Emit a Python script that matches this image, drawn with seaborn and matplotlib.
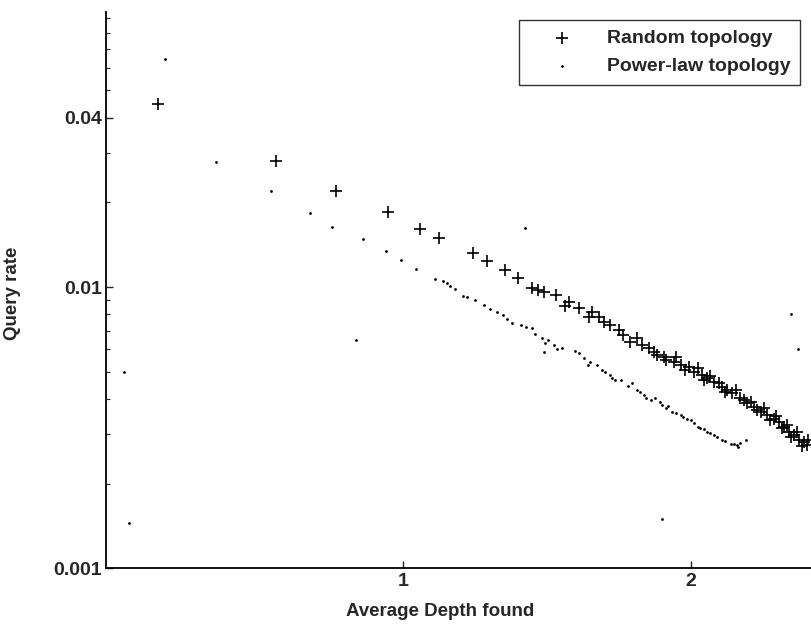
import numpy as np
import seaborn as sns
import matplotlib.pyplot as plt
from matplotlib.ticker import LogLocator, NullFormatter

# === DATI ===
random_x = [0.151, 0.561, 0.768, 0.950, 1.060, 1.124, 1.243, 1.292, 1.353, 1.398,
            1.448, 1.470, 1.488, 1.575, 1.610, 1.644, 1.681, 1.720, 1.749, 1.789,
            1.813, 1.853, 1.870, 1.905, 1.940, 1.963, 1.992, 2.009, 2.038, 2.056,
            2.078, 2.108, 2.125, 2.142, 2.171, 2.194, 2.217, 2.241, 2.264, 2.287,
            2.304, 2.322, 2.339, 2.356, 2.374, 2.391, 2.403,
            1.914, 1.949, 1.977, 2.022, 2.046, 2.067, 2.095, 2.116, 2.154, 2.183,
            2.206, 2.230, 2.251, 2.275, 2.296, 2.314, 2.331, 2.348, 2.366, 2.383,
            2.407, 1.532, 1.564, 1.657, 1.699, 1.765, 1.831, 1.883]
random_y = [0.0446, 0.0281, 0.0220, 0.0184, 0.0161, 0.0149, 0.0132, 0.0124, 0.0115, 0.0108,
            0.00992, 0.00976, 0.00962, 0.00887, 0.00840, 0.00784, 0.00784, 0.00733, 0.00703, 0.00639,
            0.00657, 0.00605, 0.00589, 0.00565, 0.00543, 0.00528, 0.00521, 0.00500, 0.00487, 0.00474,
            0.00461, 0.00442, 0.00430, 0.00419, 0.00402, 0.00386, 0.00375, 0.00360, 0.00351, 0.00341,
            0.00332, 0.00319, 0.00306, 0.00298, 0.00286, 0.00282, 0.00274,
            0.00550, 0.00564, 0.00507, 0.00515, 0.00467, 0.00483, 0.00456, 0.00423, 0.00430, 0.00397,
            0.00390, 0.00365, 0.00371, 0.00337, 0.00348, 0.00315, 0.00323, 0.00293, 0.00305, 0.00272,
            0.00286, 0.00937, 0.00856, 0.00815, 0.00751, 0.00675, 0.00622, 0.00573]

powerlaw_x = [0.175, 0.353, 0.542, 0.677, 0.755, 0.862, 0.940, 0.995, 1.046, 1.112,
              1.153, 1.182, 1.208, 1.280, 1.346, 1.378, 1.411, 1.448, 1.483, 1.494,
              1.488, 1.523, 1.552, 1.610, 1.627, 1.650, 1.674, 1.691, 1.720, 1.737,
              1.795, 1.813, 1.835, 1.859, 1.893, 1.911, 1.934, 1.963, 1.986, 2.009,
              2.032, 2.056, 2.078, 2.108, 2.137, 2.160, 2.170,
              1.505, 1.536, 1.598, 1.643, 1.702, 1.727, 1.755, 1.782, 1.824, 1.845,
              1.876, 1.900, 1.921, 1.949, 1.973, 1.998, 2.022, 2.044, 2.067, 2.091,
              2.119, 2.147, 2.164, 2.189, 1.140, 1.164, 1.223, 1.251, 1.303, 1.327,
              1.362, 1.428, 1.459,
              1.425, 0.837, 0.031, 0.050, 1.899, 2.345, 2.371]
powerlaw_y = [0.0648, 0.0278, 0.0220, 0.0183, 0.0164, 0.0148, 0.0134, 0.0125, 0.0116, 0.0107,
              0.0103, 0.00981, 0.00931, 0.00863, 0.00795, 0.00743, 0.00733, 0.00713, 0.00657, 0.00631,
              0.00589, 0.00622, 0.00605, 0.00581, 0.00558, 0.00543, 0.00528, 0.00507, 0.00487, 0.00467,
              0.00455, 0.00430, 0.00413, 0.00397, 0.00391, 0.00371, 0.00360, 0.00351, 0.00341, 0.00328,
              0.00315, 0.00306, 0.00298, 0.00286, 0.00278, 0.00274, 0.00280,
              0.00648, 0.00602, 0.00592, 0.00528, 0.00499, 0.00475, 0.00467, 0.00445, 0.00423, 0.00403,
              0.00403, 0.00381, 0.00378, 0.00356, 0.00345, 0.00337, 0.00318, 0.00313, 0.00303, 0.00293,
              0.00283, 0.00277, 0.00270, 0.00286, 0.01050, 0.01008, 0.00922, 0.00899, 0.00835, 0.00815,
              0.00770, 0.00721, 0.00681,
              0.0162, 0.00648, 0.00497, 0.00145, 0.00150, 0.00802, 0.00602]

y_ticks = [0.001, 0.01, 0.04]
y_tick_labels = ['0.001', '0.01', '0.04']
x_ticks = [1, 2]

# === GRAFICO ===
sns.set_style('white')
plt.rcParams['font.family'] = ['Liberation Sans', 'DejaVu Sans']
plt.rcParams['font.weight'] = 'bold'

fig = plt.figure(figsize=(8.12, 6.29), dpi=100)
ax = fig.add_axes([0.1305, 0.0962, 0.884, 0.885])

sns.scatterplot(x=random_x, y=random_y, ax=ax, marker='+', s=80, linewidth=1.2,
                color='black', label='Random topology')
sns.scatterplot(x=powerlaw_x, y=powerlaw_y, ax=ax, marker='o', s=4, linewidth=0,
                color='black', label='Power-law topology')

ax.set_yscale('log')
ax.set_xlim(-0.03, 2.46)
ax.set_ylim(0.001, 0.095)
ax.set_yticks(y_ticks, y_tick_labels)
ax.set_xticks(x_ticks, [str(t) for t in x_ticks])
ax.yaxis.set_minor_locator(LogLocator(base=10, subs=np.arange(2, 10)))
ax.yaxis.set_minor_formatter(NullFormatter())

ax.tick_params(axis='both', which='major', direction='in', length=5, width=1,
               labelsize=14, pad=3, left=True, bottom=True)
ax.tick_params(axis='y', which='minor', direction='in', length=3, width=0.8, left=True)

for side in ['top', 'right']:
  ax.spines[side].set_visible(False)
for side in ['left', 'bottom']:
  ax.spines[side].set_color('black')
  ax.spines[side].set_linewidth(1.3)

ax.set_xlabel('Average Depth found', fontsize=13.5, fontweight='bold')
ax.set_ylabel('Query rate', fontsize=13.5, fontweight='bold')
ax.xaxis.set_label_coords(0.465, -0.062)
ax.yaxis.set_label_coords(-0.118, 0.495)

leg = ax.legend(loc='upper right', bbox_to_anchor=(0.967, 0.9856), borderaxespad=0,
                fontsize=14, frameon=True, fancybox=False, edgecolor='black',
                handlelength=3.4, handletextpad=0.6, borderpad=0.5, labelspacing=0.55)
leg.get_frame().set_linewidth(1.0)

plt.savefig('out.png', dpi=100)
